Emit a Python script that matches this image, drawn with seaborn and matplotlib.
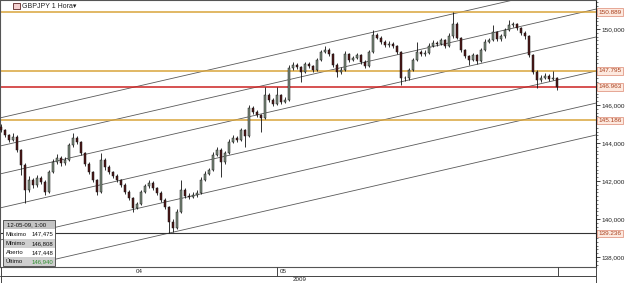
import numpy as np
import pandas as pd
import matplotlib
matplotlib.use("Agg")
import matplotlib.pyplot as plt
import seaborn as sns
from matplotlib.lines import Line2D
from matplotlib.patches import Rectangle
from matplotlib.ticker import MultipleLocator, FixedLocator, FixedFormatter
import matplotlib.transforms as mtransforms

sns.set_theme(style="white")
plt.rcParams['font.family'] = ['Liberation Sans', 'DejaVu Sans']

# ---------------- data ----------------
symbol = "GBPJPY"
timeframe = "1 Hora"
first_open = 144.84
closes = [
    144.68, 144.42, 144.16, 144.32, 143.63, 142.84, 141.53, 142.05, 141.79, 142.16,
    141.95, 141.42, 142.47, 143.00, 143.21, 142.95, 143.11, 143.89, 144.26, 144.05,
    143.47, 142.89, 142.47, 142.05, 141.42, 143.11, 142.74, 142.47, 142.26, 142.05,
    141.79, 141.42, 141.11, 140.58, 140.79, 141.42, 141.74, 141.89, 141.63, 141.37,
    141.00, 140.63, 139.84, 139.53, 140.37, 141.53, 141.21, 141.16, 141.26, 141.37,
    142.05, 142.37, 142.58, 143.37, 143.63, 143.00, 143.47, 144.05, 144.26, 144.16,
    144.68, 144.37, 145.84, 145.63, 145.47, 145.32, 146.53, 146.26, 146.05, 146.53,
    146.16, 146.26, 147.95, 148.11, 148.00, 147.74, 148.16, 148.05, 147.84, 148.37,
    148.79, 148.89, 148.68, 148.11, 147.74, 147.84, 148.68, 148.37, 148.47, 148.63,
    148.26, 148.05, 148.79, 149.68, 149.53, 149.32, 149.16, 149.21, 149.11, 148.79,
    147.42, 147.40, 147.84, 148.37, 148.79, 148.68, 148.76, 149.11, 149.26, 149.21,
    149.42, 149.11, 149.63, 150.26, 149.53, 148.89, 148.58, 148.37, 148.63, 148.33,
    148.89, 149.32, 149.42, 149.84, 149.45, 149.63, 149.95, 150.21, 150.24, 150.05,
    149.79, 149.63, 148.63, 147.74, 147.32, 147.42, 147.53, 147.38, 147.448, 146.940,
]
highs = [
    145.00, 144.75, 144.50, 144.53, 144.40, 143.70, 142.95, 142.25, 142.15, 142.30,
    142.28, 142.05, 142.60, 143.15, 143.40, 143.30, 143.25, 144.00, 144.53, 144.35,
    144.12, 143.55, 142.98, 142.55, 142.12, 143.47, 143.20, 142.82, 142.55, 142.35,
    142.12, 141.88, 141.50, 141.18, 140.90, 141.55, 141.85, 142.05, 141.98, 141.70,
    141.45, 141.08, 140.70, 140.00, 140.50, 142.05, 141.62, 141.35, 141.40, 141.50,
    142.20, 142.50, 142.70, 143.50, 143.79, 143.72, 143.60, 144.20, 144.40, 144.35,
    144.80, 144.75, 146.00, 145.95, 145.72, 145.55, 146.95, 146.62, 146.35, 146.95,
    146.60, 146.40, 148.10, 148.25, 148.20, 148.08, 148.28, 148.25, 148.12, 148.50,
    148.92, 149.11, 148.98, 148.75, 148.20, 148.00, 148.85, 148.75, 148.60, 148.75,
    148.70, 148.35, 148.92, 149.95, 149.80, 149.62, 149.40, 149.35, 149.30, 149.18,
    148.85, 147.55, 147.95, 148.50, 149.32, 148.88, 148.90, 149.25, 149.40, 149.35,
    149.55, 149.50, 149.79, 150.889, 150.35, 149.60, 148.95, 148.65, 148.75, 148.70,
    149.00, 149.45, 149.55, 150.21, 149.92, 149.75, 150.08, 150.47, 150.38, 150.32,
    150.12, 149.90, 149.70, 148.70, 147.82, 147.58, 147.68, 147.62, 147.79, 147.475,
]
lows = [
    144.60, 144.30, 144.05, 144.08, 143.55, 142.32, 140.84, 141.40, 141.65, 141.70,
    141.85, 141.26, 141.35, 142.40, 142.90, 142.80, 142.85, 143.05, 143.80, 143.95,
    143.35, 142.80, 142.38, 141.95, 141.26, 141.35, 142.60, 142.38, 142.15, 141.95,
    141.70, 141.30, 141.00, 140.37, 140.50, 140.72, 141.35, 141.65, 141.55, 141.28,
    140.90, 140.52, 139.236, 139.30, 139.45, 140.30, 141.10, 141.05, 141.08, 141.18,
    141.30, 141.98, 142.30, 142.50, 143.30, 142.21, 142.90, 143.40, 143.98, 144.05,
    144.10, 143.79, 144.30, 145.55, 145.38, 144.58, 145.25, 146.15, 145.95, 145.98,
    146.05, 146.08, 146.20, 147.85, 147.90, 147.21, 147.68, 147.95, 147.75, 147.78,
    148.30, 148.72, 148.60, 148.00, 147.47, 147.65, 147.78, 148.28, 148.30, 148.40,
    148.18, 147.95, 147.98, 148.72, 149.45, 149.22, 149.05, 149.08, 149.00, 148.68,
    147.05, 147.25, 147.32, 147.78, 148.30, 148.58, 148.60, 148.70, 149.05, 149.10,
    149.15, 149.00, 149.05, 149.55, 149.45, 148.80, 148.48, 148.11, 148.30, 148.16,
    148.25, 148.82, 149.25, 149.35, 149.38, 149.38, 149.55, 149.88, 150.10, 149.95,
    149.70, 149.50, 148.55, 147.65, 146.89, 147.20, 147.35, 147.28, 147.30, 146.808,
]
opens = [first_open] + closes[:-1]

orange_levels = [150.889, 147.795, 145.186]
red_levels = [146.963]
black_levels = [139.236]
channel_start_prices = [145.32, 143.84, 142.37, 140.58, 138.89, 137.21]
channel_slope = 0.0484          # price per bar
ytick_values = [138, 140, 142, 144, 146, 150]
day_labels = ["04", "05"]
day_start_bar = 69
year_label = "2009"
info_header = "12-05-09, 1:00"
info_names = ["Máximo", "Mínimo", "Aberto", "Último"]
info_values = ["147,475", "146,808", "147,448", "146,940"]

df = pd.DataFrame({"open": opens, "high": highs, "low": lows, "close": closes})
df["bar"] = np.arange(len(df))
df["up"] = df["close"] >= df["open"]

# ---------------- figure ----------------
W, H = 625, 283
fig = plt.figure(figsize=(W / 100, H / 100), dpi=100)
fig.patch.set_facecolor("white")

def fx(px):
    return px / W

def fy(py):
    return 1 - py / H

ax_right_px = 596
ax_bottom_px = 267
ax = fig.add_axes([0, fy(ax_bottom_px), fx(ax_right_px), 1 - fy(ax_bottom_px)])
ax.set_facecolor("white")
ax.set_xlim(-0.25, (ax_right_px - 1) / 4)
ax.set_ylim(137.47, 151.53)

# channel lines
xs = np.array([-0.25, (ax_right_px - 1) / 4])
for p0 in channel_start_prices:
    sns.lineplot(x=xs, y=p0 + channel_slope * (xs + 0.25), ax=ax,
                 color="#5a5a5a", lw=0.6, zorder=1)

# horizontal levels
for v in orange_levels:
    ax.axhline(v, color="#d9a43a", lw=1.1, zorder=2)
for v in red_levels:
    ax.axhline(v, color="#cc2222", lw=1.1, zorder=2)
for v in black_levels:
    ax.axhline(v, color="#333333", lw=0.8, zorder=2)

# candles
ax.vlines(df["bar"], df["low"], df["high"], color="#111111", lw=0.6, zorder=3)
body_bottom = np.minimum(df["open"], df["close"])
body_h = np.maximum(np.abs(df["close"] - df["open"]), 0.03)
colors = np.where(df["up"], "#7d8d7d", "#4e1717")
ax.bar(df["bar"], body_h, bottom=body_bottom, width=0.6, color=colors,
       edgecolor="#151515", linewidth=0.35, zorder=4)

# axes styling
for s in ["left", "top", "bottom"]:
    ax.spines[s].set_visible(True)
    ax.spines[s].set_color("#555555")
    ax.spines[s].set_linewidth(0.8)
ax.spines["right"].set_color("#222222")
ax.spines["right"].set_linewidth(0.8)
ax.set_xticks([])
ax.yaxis.tick_right()
ax.yaxis.set_major_locator(FixedLocator(ytick_values))
ax.yaxis.set_major_formatter(FixedFormatter([f"{v:.3f}".replace(".", ",") for v in ytick_values]))
ax.yaxis.set_minor_locator(MultipleLocator(0.2))
ax.tick_params(axis="y", which="major", labelsize=4.6, length=3, width=0.6,
               pad=1.2, colors="#222222", right=True, left=False)
ax.tick_params(axis="y", which="minor", length=1.5, width=0.5, color="#444444",
               right=True, left=False)
ax.grid(False)

# level labels on the right axis
trans = mtransforms.blended_transform_factory(ax.transAxes, ax.transData)
xlab = 610.0 / ax_right_px
for v in orange_levels + red_levels + black_levels:
    ax.text(xlab, v, f"{v:.3f}", transform=trans, ha="center", va="center",
            fontsize=4.6, color="#a8401e", zorder=6, clip_on=False,
            bbox=dict(boxstyle="square,pad=0.22", fc="#fde9df", ec="#e29a86", lw=0.6))

# title
fig.add_artist(Rectangle((fx(13), fy(9)), 7 / W, 6 / H, transform=fig.transFigure,
                         fc="#f4d0d0", ec="#5a2222", lw=0.6))
fig.text(fx(22), fy(6), f"{symbol} {timeframe}\u25be", fontsize=5, va="center",
         ha="left", color="#222222")

# info box
box_x0, box_x1 = 3, 55
row_edges = [220, 229, 239, 248, 257, 266]
row_fill = ["#c4c4c4", "white", "#cfcfcf", "white", "#cfcfcf"]
for k in range(5):
    y0, y1 = row_edges[k], row_edges[k + 1]
    fig.add_artist(Rectangle((fx(box_x0), fy(y1)), (box_x1 - box_x0) / W, (y1 - y0) / H,
                             transform=fig.transFigure, fc=row_fill[k], ec="none", zorder=5))
fig.add_artist(Rectangle((fx(box_x0), fy(row_edges[-1])), (box_x1 - box_x0) / W,
                         (row_edges[-1] - row_edges[0]) / H, transform=fig.transFigure,
                         fc="none", ec="#555555", lw=0.7, zorder=6))
fig.text(fx(7), fy((row_edges[0] + row_edges[1]) / 2), info_header, fontsize=4.3,
         va="center", ha="left", color="#111111", zorder=7)
for k, (nm, val) in enumerate(zip(info_names, info_values)):
    yc = (row_edges[k + 1] + row_edges[k + 2]) / 2
    fig.text(fx(6), fy(yc), nm, fontsize=4.3, va="center", ha="left", color="#111111", zorder=7)
    fig.text(fx(53), fy(yc), val, fontsize=4.3, va="center", ha="right",
             color="#2f8f2f" if nm == "Último" else "#111111", zorder=7)

# bottom time bands
def hline_px(y, x0, x1, c="#444444", lw=0.7):
    fig.add_artist(Line2D([fx(x0), fx(x1)], [fy(y), fy(y)], transform=fig.transFigure,
                          color=c, lw=lw))

def vline_px(x, y0, y1, c="#444444", lw=0.7):
    fig.add_artist(Line2D([fx(x), fx(x)], [fy(y0), fy(y1)], transform=fig.transFigure,
                          color=c, lw=lw))

hline_px(276, 0, ax_right_px)
hline_px(282.5, 0, 625)
vline_px(0.5, 267, 283)
sep_px = 1 + 4 * day_start_bar
vline_px(sep_px, 267, 276)
vline_px(558, 267, 276)
vline_px(ax_right_px, 267, 283)
fig.text(fx(136), fy(271.5), day_labels[0], fontsize=4.5, va="center", ha="left", color="#222222")
fig.text(fx(sep_px + 3), fy(271.5), day_labels[1], fontsize=4.5, va="center", ha="left", color="#222222")
fig.text(fx(300), fy(279.5), year_label, fontsize=4.5, va="center", ha="center", color="#222222")

fig.savefig("out.png", dpi=100, facecolor="white")
